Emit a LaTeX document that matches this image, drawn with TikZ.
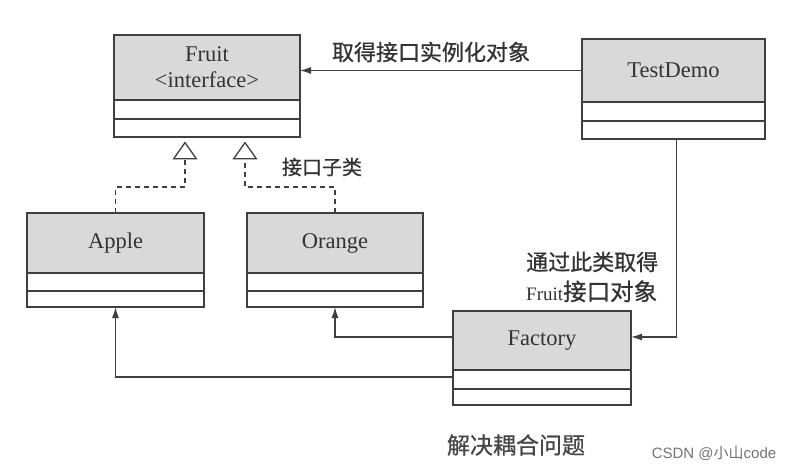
\documentclass[tikz,border=0pt]{standalone}
\usepackage{fontspec}
\setmainfont{Liberation Serif}
\newfontfamily\cjk{Noto Sans CJK SC}[FakeBold=0.8]
\newfontfamily\cjkw{Noto Sans CJK SC}
\newfontfamily\wmfont{Liberation Sans}
\usetikzlibrary{arrows.meta,positioning,calc}
\definecolor{ln}{HTML}{3F3F3F}
\definecolor{hd}{HTML}{D9D9D9}
\definecolor{tx}{HTML}{333333}
\begin{document}
\begin{tikzpicture}[x=1pt,y=-1pt,
  hdr/.style={draw=ln,fill=hd,line width=1.3pt,inner sep=0pt,outer sep=0pt,text=tx,font=\fontsize{22.5}{26}\selectfont,align=center,anchor=north west},
  cmp/.style={draw=ln,fill=white,line width=1.3pt,inner sep=0pt,outer sep=0pt,anchor=north},
  arr/.style={draw=ln,line width=1.3pt,-{Latex[length=11pt,width=7pt]}},
  inh/.style={draw=ln,line width=1.3pt,dash pattern=on 5pt off 4pt,shorten >=4.5pt,-{Triangle[open,length=18pt,width=25pt,fill=white]}},
  lbl/.style={text=tx,inner sep=0pt}]
\useasboundingbox[fill=white] (0,0) rectangle (792,470);
% Fruit
\node[hdr,minimum width=186pt,minimum height=65pt] (fruit) at (114,35) {Fruit\\<interface>};
\node[cmp,minimum width=186pt,minimum height=19pt] (fruit2) at (fruit.south) {};
\node[cmp,minimum width=186pt,minimum height=18pt] (fruit3) at (fruit2.south) {};
% TestDemo
\node[hdr,minimum width=183pt,minimum height=63pt] (td) at (582,39) {TestDemo};
\node[cmp,minimum width=183pt,minimum height=19pt] (td2) at (td.south) {};
\node[cmp,minimum width=183pt,minimum height=18pt] (td3) at (td2.south) {};
% Apple
\node[hdr,minimum width=177pt,minimum height=60pt] (apple) at (27,213) {Apple};
\node[cmp,minimum width=177pt,minimum height=18pt] (apple2) at (apple.south) {};
\node[cmp,minimum width=177pt,minimum height=16pt] (apple3) at (apple2.south) {};
% Orange
\node[hdr,minimum width=176pt,minimum height=60pt] (orange) at (247,213) {Orange};
\node[cmp,minimum width=176pt,minimum height=18pt] (orange2) at (orange.south) {};
\node[cmp,minimum width=176pt,minimum height=16pt] (orange3) at (orange2.south) {};
% Factory
\node[hdr,minimum width=178pt,minimum height=59pt] (factory) at (453,311) {Factory};
\node[cmp,minimum width=178pt,minimum height=19pt] (factory2) at (factory.south) {};
\node[cmp,minimum width=178pt,minimum height=16pt] (factory3) at (factory2.south) {};
% connectors
\draw[arr] (td.west) -- (td.west -| fruit.east);
\draw[inh] (apple.north) -- ++(0,-26) -| ([xshift=71pt]fruit3.south west);
\draw[inh] (orange.north) -- ++(0,-26) -| ([xshift=131pt]fruit3.south west);
\draw[arr] ([yshift=3.5pt]factory.west) -| (orange3.south);
\draw[arr] ([yshift=2.5pt]factory2.west) -| (apple3.south);
\draw[arr] ([xshift=3pt]td3.south) |- ([yshift=3.5pt]factory.east);
% labels
\node[lbl,font=\cjk\fontsize{22}{22}\selectfont] (l1) at (431,52) {取得接口实例化对象};
\node[lbl,font=\cjk\fontsize{20}{20}\selectfont] (l2) at (322,167) {接口子类};
\node[lbl,align=left,anchor=west,font=\fontsize{19}{30}\selectfont] (l3) at (526,277) {{\cjk\fontsize{22}{30}\selectfont 通过此类取得}\\Fruit{\cjk\fontsize{23.5}{30}\selectfont 接口对象}};
\node[lbl,font=\cjk\fontsize{23}{23}\selectfont,text=black!72] (title) at (516,445) {解决耦合问题};
\node[lbl,font=\wmfont\fontsize{15}{15}\selectfont,text=black!55] (wm) at (714,453) {CSDN @{\cjkw 小山}code};
\end{tikzpicture}
\end{document}
